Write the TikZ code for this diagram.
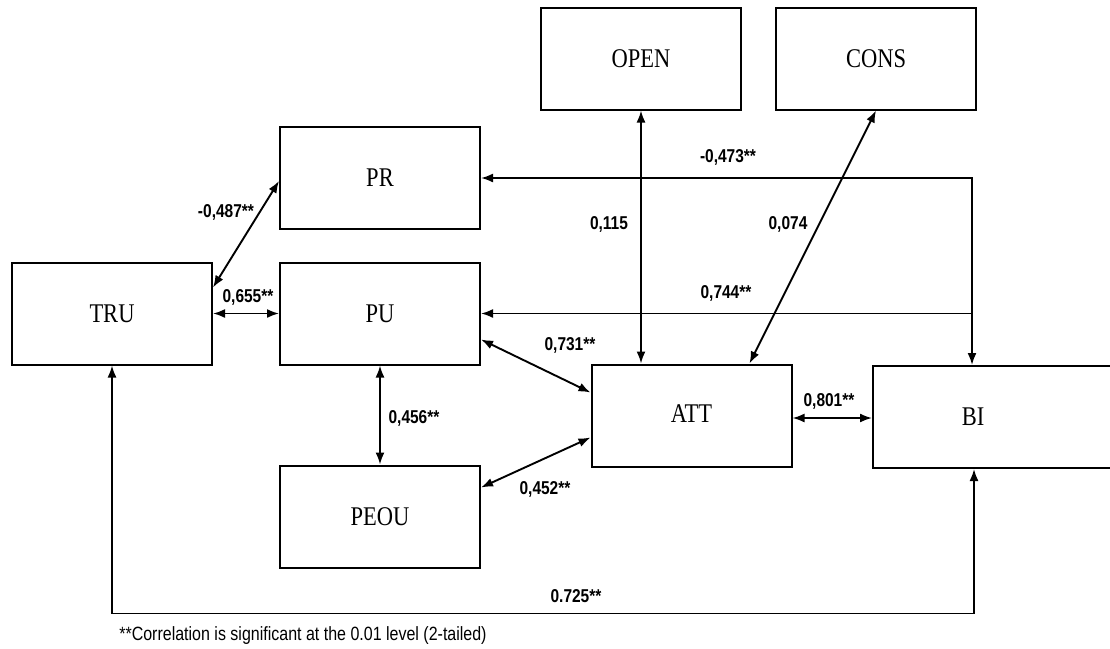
\documentclass[tikz,border=0pt]{standalone}
\usepackage{fontspec}
\setmainfont{Liberation Serif}
\newfontfamily\labelfont{Liberation Sans}
\usetikzlibrary{arrows.meta,calc}
% text in this figure is set slightly taller than wide
\newcommand\tallset[1]{\scalebox{1}[1.2]{#1}}

\begin{document}
\begin{tikzpicture}[x=1pt,y=-1pt,
  construct/.style={draw, line width=2pt, minimum width=200pt, minimum height=102pt,
    inner sep=0pt, font=\fontsize{22.5}{26}\selectfont},
  tip/.tip={Latex[length=12pt,width=9pt]},
  link/.style={line width=1.9pt, tip-tip},
  onelink/.style={line width=1.9pt, -tip},
  coef/.style={font=\labelfont\bfseries\fontsize{15.5}{18}\selectfont, inner sep=1pt},
  note/.style={font=\labelfont\fontsize{16}{19}\selectfont, inner sep=0pt}]

\useasboundingbox (0,0) rectangle (1110,648);
\clip (0,0) rectangle (1110,648);

% constructs
\node[construct] (TRU)  at (112,313.5) {\tallset{TRU}};
\node[construct] (PR)   at (380,178)   {\tallset{PR}};
\node[construct] (PU)   at (380,313.5) {\tallset{PU}};
\node[construct] (PEOU) at (380,516.5) {\tallset{PEOU}};
\node[construct] (OPEN) at (641,58.5)  {\tallset{OPEN}};
\node[construct] (CONS) at (876,58.5)  {\tallset{CONS}};
\node[construct] (ATT)  at (691.5,415.5) {\raisebox{3pt}{\tallset{ATT}}};
% BI runs past the right edge; its label sits over the first 200pt
\node[construct, minimum width=242pt, anchor=north west] (BI) at (872,365)
  {\makebox[200pt]{\raisebox{-3pt}{\tallset{BI}}}\hspace*{42pt}};

% anchor points on the BI box
\coordinate (BItop) at ($(BI.north west)+(100,0)$);
\coordinate (BIbot) at ($(BI.south west)+(102,0)$);
\coordinate (PUjoin) at (BItop |- PU.east);

% correlations
\draw[link] ($(TRU.north east)+(0,26)$) -- ($(PR.north west)+(0,55)$);
\draw[link] (TRU.east) -- (PU.west);
\draw[link] (PR.east) -| (BItop);
\draw[onelink] (PUjoin) -- (PU.east);
\draw[link] (OPEN.south) -- (OPEN.south |- ATT.north);
\draw[link] (CONS.south) -- ($(ATT.north west)+(159,0)$);
\draw[link] ($(PU.north east)+(0,78)$) -- ($(ATT.north west)+(0,29)$);
\draw[link] ($(PEOU.north east)+(0,23)$) -- ($(ATT.north west)+(0,74)$);
\draw[link] (PU.south) -- (PEOU.north);
\draw[link] ($(ATT.east)+(0,2.5)$) -- ($(ATT.east -| BI.west)+(0,2.5)$);
\draw[link] (TRU.south) -- ++(0,248) -| (BIbot);

% coefficient labels
\node[coef] (c1)  at (226,212) {\tallset{-0,487**}};
\node[coef] (c2)  at (248,297) {\tallset{0,655**}};
\node[coef] (c3)  at (728,157) {\tallset{-0,473**}};
\node[coef] (c4)  at (609,224) {\tallset{0,115}};
\node[coef] (c5)  at (788,224) {\tallset{0,074}};
\node[coef] (c6)  at (726,293) {\tallset{0,744**}};
\node[coef] (c7)  at (570,345) {\tallset{0,731**}};
\node[coef] (c8)  at (414,418) {\tallset{0,456**}};
\node[coef] (c9)  at (545,489) {\tallset{0,452**}};
\node[coef] (c10) at (829,401) {\tallset{0,801**}};
\node[coef] (c11) at (576,596) {\tallset{0.725**}};

\node[note] (fn) at (303,636) {\tallset{**Correlation is significant at the 0.01 level (2-tailed)}};
\end{tikzpicture}
\end{document}
